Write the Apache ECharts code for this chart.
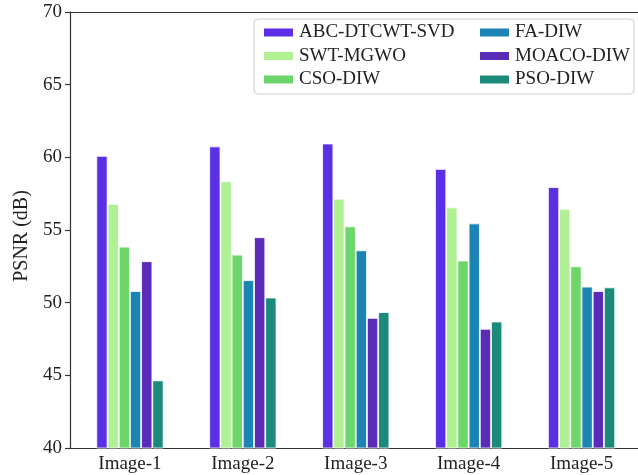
<!DOCTYPE html>
<html>
<head>
<meta charset="utf-8">
<script src="https://cdn.jsdelivr.net/npm/echarts@6/dist/echarts.min.js"></script>
<style>
  html, body { margin: 0; padding: 0; background: #fff; }
  #main { width: 638px; height: 475px; }
</style>
</head>
<body>
<div id="main"></div>
<script>
// data
var categories = ['Image-1', 'Image-2', 'Image-3', 'Image-4', 'Image-5'];
var abcDtcwtSvd = [60.1, 60.75, 60.95, 59.2, 57.95];
var swtMgwo = [56.8, 58.35, 57.15, 56.55, 56.45];
var csoDiw = [53.85, 53.3, 55.25, 52.9, 52.5];
var faDiw = [50.8, 51.55, 53.6, 55.45, 51.1];
var moacoDiw = [52.85, 54.5, 48.95, 48.2, 50.8];
var psoDiw = [44.65, 50.35, 49.35, 48.7, 51.05];
var yTicks = [40, 45, 50, 55, 60, 65, 70];

var names = ['ABC-DTCWT-SVD', 'SWT-MGWO', 'CSO-DIW', 'FA-DIW', 'MOACO-DIW', 'PSO-DIW'];
var values = [abcDtcwtSvd, swtMgwo, csoDiw, faDiw, moacoDiw, psoDiw];
var colors = ['#5b2fe6', '#aef092', '#6cd66a', '#1c84b4', '#5a2bb6', '#1b8a7b'];

var font = 'Liberation Serif';
var ink = '#222';

var myChart = echarts.init(document.getElementById('main'));

var series = names.map(function (n, i) {
    return {
        name: n,
        type: 'bar',
        xAxisIndex: 2,
        yAxisIndex: 1,
        barWidth: 11.2,
        barGap: '0%',
        itemStyle: { color: colors[i], borderColor: '#fff', borderWidth: 0.8 },
        data: values[i]
    };
});

var option = {
    animation: false,
    // grid 0 = frame (spines + y ticks), grid 1 = bars and x ticks
    grid: [
        { left: 70, right: 0, top: 12, bottom: 27 },
        { left: 73.5, right: 0, top: 12, bottom: 27 }
    ],
    xAxis: [
        {
            type: 'category', gridIndex: 0, position: 'bottom', data: categories,
            axisLine: { lineStyle: { color: '#333', width: 1.2 } },
            axisTick: { show: false }, axisLabel: { show: false }, splitLine: { show: false }
        },
        {
            type: 'category', gridIndex: 0, position: 'top', data: categories,
            axisLine: { lineStyle: { color: '#333', width: 1.2 } },
            axisTick: { show: false }, axisLabel: { show: false }, splitLine: { show: false }
        },
        {
            type: 'category', gridIndex: 1, position: 'bottom', data: categories,
            axisLine: { show: false },
            axisTick: { alignWithLabel: true, length: 5, lineStyle: { color: '#333', width: 1.2 } },
            axisLabel: { color: ink, fontFamily: font, fontSize: 19, margin: 7 },
            splitLine: { show: false }
        }
    ],
    yAxis: [
        {
            type: 'value', gridIndex: 0, min: yTicks[0], max: yTicks[yTicks.length - 1], interval: 5,
            name: 'PSNR (dB)', nameLocation: 'middle', nameGap: 38,
            nameTextStyle: { color: ink, fontFamily: font, fontSize: 20, padding: [0, 12, 0, 0] },
            axisLine: { show: true, lineStyle: { color: '#333', width: 1.2 } },
            axisTick: { show: true, length: 5, lineStyle: { color: '#333', width: 1.2 } },
            axisLabel: { color: ink, fontFamily: font, fontSize: 19, margin: 8 },
            splitLine: { show: false }
        },
        {
            type: 'value', gridIndex: 1, min: yTicks[0], max: yTicks[yTicks.length - 1], interval: 5,
            show: false, splitLine: { show: false }
        }
    ],
    legend: [
        {
            data: names.slice(0, 3), orient: 'vertical', left: 262, top: 23,
            itemWidth: 31, itemHeight: 10, itemGap: 4.5, padding: 0,
            icon: 'rect',
            textStyle: { color: ink, fontFamily: font, fontSize: 19 }
        },
        {
            data: names.slice(3), orient: 'vertical', left: 478, top: 23,
            itemWidth: 31, itemHeight: 10, itemGap: 4.5, padding: 0,
            icon: 'rect',
            textStyle: { color: ink, fontFamily: font, fontSize: 19 }
        }
    ],
    graphic: [
        {
            type: 'rect', z: 0,
            shape: { x: 254, y: 19, width: 380, height: 75, r: 4 },
            style: { fill: 'rgba(255,255,255,0.8)', stroke: '#ccc', lineWidth: 1 }
        }
    ],
    series: series
};

myChart.setOption(option);
</script>
</body>
</html>
